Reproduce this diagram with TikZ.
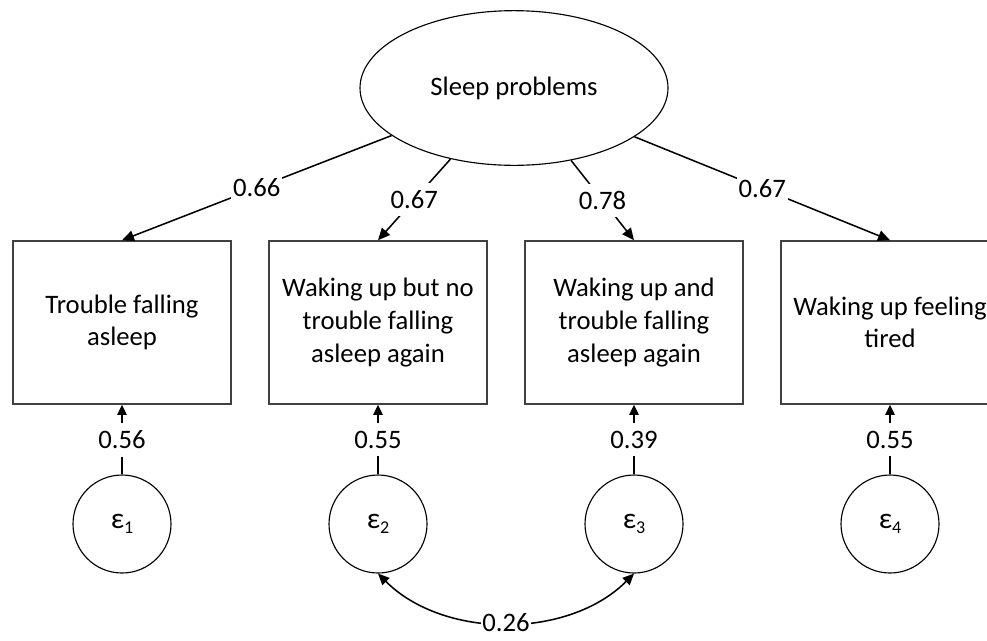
\documentclass[tikz,border=0pt]{standalone}
\usepackage{fontspec}
\setmainfont{Carlito}
\usetikzlibrary{arrows.meta,shapes.geometric}
\newcommand\diagfont{\fontsize{20}{24.4}\selectfont}
\newcommand\epsi[1]{{\fontsize{22}{24}\selectfont ε}\raisebox{-0.16em}{\fontsize{13.5}{13.5}\selectfont #1}}
\begin{document}
\begin{tikzpicture}[x=0.75pt,y=-0.75pt,
  latent/.style={ellipse, draw, line width=0.85pt, minimum width=231pt, minimum height=116pt, inner sep=0pt, font=\diagfont},
  obs/.style={rectangle, draw=black!75, line width=1.15pt, minimum width=163.5pt, minimum height=122.25pt, align=center, inner sep=0pt, font=\diagfont, fill=white},
  err/.style={ellipse, draw, line width=0.85pt, minimum width=73.5pt, minimum height=73.5pt, inner sep=0pt, font=\diagfont},
  loadarrow/.style={-{Triangle[length=9pt,width=8pt]}, line width=1.15pt},
  errarrow/.style={-{Triangle[length=7.5pt,width=7pt]}, line width=1pt},
  covarrow/.style={{Triangle[length=8.5pt,width=7.5pt]}-{Triangle[length=8.5pt,width=7.5pt]}, line width=1.15pt},
  lbl/.style={fill=white, inner xsep=1.5pt, inner ysep=5.5pt, font=\diagfont}]
\useasboundingbox (0,0) rectangle (987,640);
\clip (0,0) rectangle (987,640);

\node[latent] (sp) at (514,88) {Sleep problems};

\node[obs] (b1) at (122,322.5) {Trouble falling\\asleep};
\node[obs] (b2) at (378,322.5) {Waking up but no\\trouble falling\\asleep again};
\node[obs] (b3) at (634,322.5) {Waking up and\\trouble falling\\asleep again};
\node[obs] (b4) at (890,322.5) {Waking up feeling\\tired};

\node[err] (e1) at (122,524) {\epsi{1}};
\node[err] (e2) at (378,524) {\epsi{2}};
\node[err] (e3) at (634,524) {\epsi{3}};
\node[err] (e4) at (890,524) {\epsi{4}};

\draw[loadarrow] (sp) -- node[lbl,pos=0.5]{0.66} (b1.north);
\draw[loadarrow] (sp) -- node[lbl,pos=0.5]{0.67} (b2.north);
\draw[loadarrow] (sp) -- node[lbl,pos=0.5]{0.78} (b3.north);
\draw[loadarrow] (sp) -- node[lbl,pos=0.5]{0.67} (b4.north);

\draw[errarrow] (e1.north) -- node[lbl,pos=0.5,inner ysep=6pt]{0.56} (b1.south);
\draw[errarrow] (e2.north) -- node[lbl,pos=0.5,inner ysep=6pt]{0.55} (b2.south);
\draw[errarrow] (e3.north) -- node[lbl,pos=0.5,inner ysep=6pt]{0.39} (b3.south);
\draw[errarrow] (e4.north) -- node[lbl,pos=0.5,inner ysep=6pt]{0.55} (b4.south);

\draw[covarrow] (e2.south) to[out=-45,in=-135,looseness=0.93] node[lbl,pos=0.5,inner ysep=0pt,inner xsep=1pt]{0.26} (e3.south);
\end{tikzpicture}
\end{document}
